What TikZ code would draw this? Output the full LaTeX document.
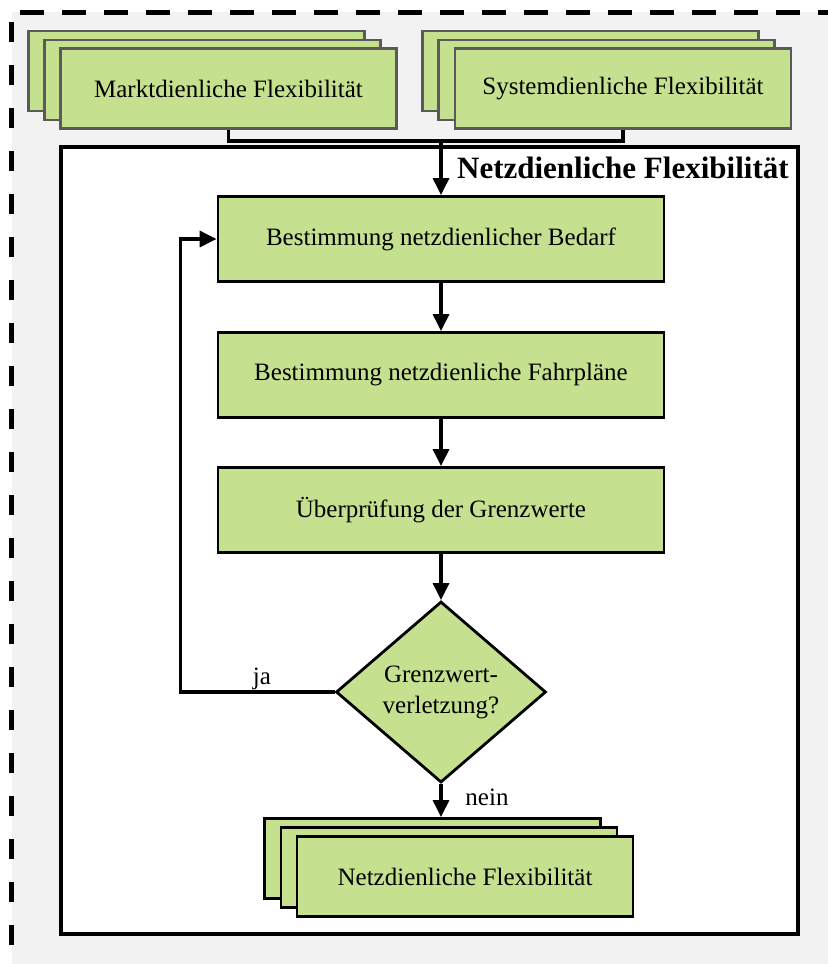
\documentclass[tikz,border=0pt]{standalone}
\usepackage{fontspec}
\setmainfont{Liberation Serif}
\usetikzlibrary{arrows.meta,shapes.geometric,positioning}
\definecolor{boxgreen}{HTML}{C5E08E}
\definecolor{bggray}{HTML}{F2F2F2}
\definecolor{stackgray}{HTML}{5A5A5A}

\begin{document}
\begin{tikzpicture}[x=0.5pt, y=-0.5pt, >={Triangle[length=8.5pt,width=8pt]},
    every node/.style={font=\fontsize{12.5}{15.5}\selectfont},
    stackbox/.style={draw=stackgray, line width=1.4pt, fill=boxgreen, minimum width=168pt, minimum height=40pt, inner sep=0pt},
    netzbox/.style={stackbox, draw=black},
    procbox/.style={draw, line width=1.4pt, fill=boxgreen, minimum width=223pt, minimum height=42.5pt, inner sep=0pt},
    decision/.style={diamond, draw, line width=1.4pt, fill=boxgreen, aspect=1.16, inner sep=0pt, minimum width=105pt, minimum height=90.5pt, align=center},
    conn/.style={line width=1.6pt}]
    \useasboundingbox (0,0) rectangle (828,964);

    \fill[bggray] (12,12) rectangle (828,964);
    \draw[line width=2.5pt, dash pattern=on 12pt off 9pt] (20,12) -- (828,12);
    \draw[line width=2.5pt, dash pattern=on 10pt off 11.5pt] (11.5,22) -- (11.5,964);

    \draw[line width=2pt, fill=white] (61,147) rectangle (798,934);
    \node[anchor=base east, inner sep=0pt, font=\fontsize{15.5}{18}\selectfont\bfseries] (title) at (789,178) {Netzdienliche Flexibilität};

    \node[stackbox] (mkt3) at (196.5,71) {};
    \node[stackbox] (mkt2) at (212.5,80) {};
    \node[stackbox] (mkt1) at (228.5,88.5) {Marktdienliche Flexibilität};

    \node[stackbox] (sys3) at (590.5,71) {};
    \node[stackbox] (sys2) at (606.5,80) {};
    \node[stackbox] (sys1) at (623,88.5) {Systemdienliche Flexibilität};

    \node[procbox] (bedarf) at (441,239) {Bestimmung netzdienlicher Bedarf};
    \node[procbox] (fahrplan) at (441,375) {Bestimmung netzdienliche Fahrpläne};
    \node[procbox] (pruef) at (441,510) {Überprüfung der Grenzwerte};

    \node[decision] (check) at (441,692) {Grenzwert-\\verletzung?};

    \node[netzbox] (netz3) at (432.5,858.5) {};
    \node[netzbox] (netz2) at (449,867.5) {};
    \node[netzbox] (netz1) at (465,876.5) {Netzdienliche Flexibilität};

    \coordinate (jn) at (441,141);
    \draw[conn] (mkt1.south) -- (mkt1.south |- jn) -| (sys1.south);
    \draw[conn, ->] (jn) -- (bedarf.north);
    \draw[conn, ->] (bedarf) -- (fahrplan);
    \draw[conn, ->] (fahrplan) -- (pruef);
    \draw[conn, ->] (pruef) -- (check);
    \draw[conn, ->] (check.west) -- ++(-154,0) |- (bedarf.west);
    \draw[conn, ->] (check.south) -- (check.south |- netz3.north);

    \node[anchor=base] (ja) at (262,684) {ja};
    \node[anchor=base] (nein) at (487,805) {nein};
\end{tikzpicture}
\end{document}
